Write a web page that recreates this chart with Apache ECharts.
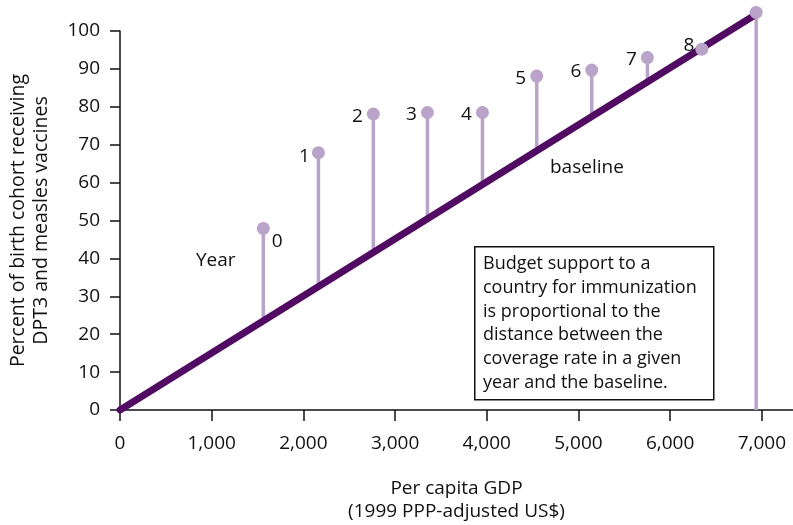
<!DOCTYPE html>
<html>
<head>
<meta charset="utf-8">
<script src="https://cdn.jsdelivr.net/npm/echarts@6/dist/echarts.min.js"></script>
<style>
  html, body { margin: 0; padding: 0; background: #fff; }
  #chart { width: 793px; height: 525px; }
</style>
</head>
<body>
<div id="chart"></div>
<script>
// data
const years = ['0', '1', '2', '3', '4', '5', '6', '7', '8', ''];
const gdp = [1563, 2164, 2763, 3353, 3953, 4545, 5145, 5752, 6346, 6938];
const coverage = [47.9, 67.9, 78.1, 78.5, 78.5, 88.1, 89.7, 93.0, 95.2, 104.9];
// where each stem stops (on the baseline, the last one drops to the axis)
const stemBase = [23.6, 32.6, 41.7, 50.6, 59.6, 68.5, 77.6, 86.7, 95.7, 0];
const baselineX = [0, 6930];
const baselineY = [0, 104.3];
const xTicks = [0, 1000, 2000, 3000, 4000, 5000, 6000, 7000];

const FONT = 'Open Sans';
const STEM = '#b9a3c9';
const BASE = '#520b62';
const INK = '#111';

// label side for each year number
const labelPos = ['right', 'left', 'left', 'left', 'left', 'left', 'left', 'left', 'left', 'left'];
const labelOffset = [[-2, 13], [2, 4], [0, 3], [0, 2], [0, 2], [0, 2], [0, 2], [0, 2], [3, -4], [0, 0]];

const chart = echarts.init(document.getElementById('chart'), null, { renderer: 'canvas' });

const fmt = v => v.toLocaleString('en-US');

const option = {
    animation: false,
    grid: { left: 120, right: 0, top: 31, bottom: 115, outerBoundsMode: 'none', containLabel: false },
    xAxis: {
        type: 'value',
        min: 0,
        max: 7340,
        interval: 1000,
        name: 'Per capita GDP\n(1999 PPP-adjusted US$)',
        nameLocation: 'middle',
        nameGap: 67,
        nameTextStyle: { fontFamily: FONT, fontSize: 19, color: INK, lineHeight: 23 },
        axisLine: { lineStyle: { color: INK, width: 1.5 } },
        axisTick: { length: 11, lineStyle: { color: INK, width: 1.5 }, customValues: xTicks },
        axisLabel: {
            customValues: xTicks,
            formatter: fmt,
            margin: 24,
            fontFamily: FONT, fontSize: 19, color: INK
        },
        splitLine: { show: false }
    },
    yAxis: {
        type: 'value',
        min: 0,
        max: 100,
        interval: 10,
        name: 'Percent of birth cohort receiving\nDPT3 and measles vaccines',
        nameLocation: 'middle',
        nameGap: 67,
        nameTextStyle: { fontFamily: FONT, fontSize: 19.5, color: INK, lineHeight: 23 },
        axisLine: { show: true, lineStyle: { color: INK, width: 1.5 } },
        axisTick: { show: true, length: 10, lineStyle: { color: INK, width: 1.5 } },
        axisLabel: { margin: 20, fontFamily: FONT, fontSize: 19, color: INK },
        splitLine: { show: false }
    },
    series: [
        {
            name: 'stems',
            type: 'custom',
            clip: false,
            z: 1,
            data: gdp.map((x, i) => [x, coverage[i], stemBase[i]]),
            renderItem: (params, api) => {
                const top = api.coord([api.value(0), api.value(1)]);
                const bot = api.coord([api.value(0), api.value(2)]);
                return {
                    type: 'line',
                    shape: { x1: top[0], y1: top[1], x2: bot[0], y2: bot[1] },
                    style: { stroke: STEM, lineWidth: 3.5 }
                };
            }
        },
        {
            name: 'baseline',
            type: 'line',
            clip: false,
            z: 2,
            symbol: 'none',
            data: baselineX.map((x, i) => [x, baselineY[i]]),
            lineStyle: { color: BASE, width: 7, cap: 'round' }
        },
        {
            name: 'coverage',
            type: 'scatter',
            clip: false,
            z: 3,
            symbolSize: 13,
            itemStyle: { color: STEM, opacity: 1 },
            data: gdp.map((x, i) => ({
                value: [x, coverage[i]],
                label: {
                    show: years[i] !== '',
                    formatter: years[i],
                    position: labelPos[i],
                    offset: labelOffset[i],
                    distance: 4,
                    fontFamily: FONT, fontSize: 19, color: INK
                }
            }))
        }
    ],
    graphic: [
        {
            type: 'text', left: 196, top: 251,
            style: { text: 'Year', fontFamily: FONT, fontSize: 19, fill: INK }
        },
        {
            type: 'text', left: 550, top: 158,
            style: { text: 'baseline', fontFamily: FONT, fontSize: 19, fill: INK }
        },
        {
            type: 'rect', left: 474, top: 246, z: 10,
            shape: { width: 239, height: 153 },
            style: { fill: '#fff', stroke: INK, lineWidth: 1.5 }
        },
        {
            type: 'text', left: 483, top: 252, z: 11,
            style: {
                text: 'Budget support to a\ncountry for immunization\nis proportional to the\ndistance between the\ncoverage rate in a given\nyear and the baseline.',
                fontFamily: FONT, fontSize: 18, lineHeight: 23.8, fill: INK
            }
        }
    ]
};

chart.setOption(option);
</script>
</body>
</html>
